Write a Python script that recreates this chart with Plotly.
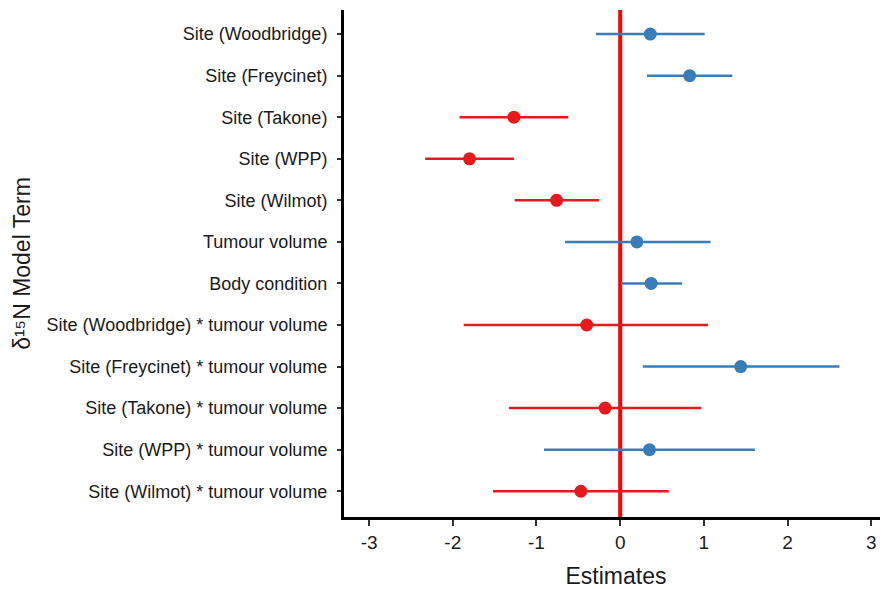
import plotly.graph_objects as go

terms = ["Site (Woodbridge)", "Site (Freycinet)", "Site (Takone)", "Site (WPP)",
         "Site (Wilmot)", "Tumour volume", "Body condition",
         "Site (Woodbridge) * tumour volume", "Site (Freycinet) * tumour volume",
         "Site (Takone) * tumour volume", "Site (WPP) * tumour volume",
         "Site (Wilmot) * tumour volume"]
estimates = [0.36, 0.83, -1.27, -1.80, -0.76, 0.20, 0.37, -0.40, 1.44, -0.18, 0.35, -0.47]
lower = [-0.29, 0.32, -1.92, -2.33, -1.26, -0.66, 0.01, -1.87, 0.27, -1.33, -0.91, -1.52]
upper = [1.01, 1.34, -0.62, -1.27, -0.25, 1.08, 0.74, 1.05, 2.62, 0.97, 1.61, 0.58]
x_ticks = [-3, -2, -1, 0, 1, 2, 3]

RED = "#E41A1C"
BLUE = "#377EB8"

fig = go.Figure()
fig.add_vline(x=0, line=dict(color="#FF0000", width=4), layer="below")

for sign, color in [(1, BLUE), (-1, RED)]:
    idx = [i for i, e in enumerate(estimates) if (e > 0) == (sign > 0)]
    fig.add_trace(go.Scatter(
        x=[estimates[i] for i in idx],
        y=[terms[i] for i in idx],
        mode="markers",
        marker=dict(color=color, size=13),
        error_x=dict(type="data", symmetric=False,
                     array=[upper[i] - estimates[i] for i in idx],
                     arrayminus=[estimates[i] - lower[i] for i in idx],
                     color=color, thickness=2.5, width=0),
        showlegend=False,
    ))

# page body has an 8px margin, so the figure is shrunk by 8px and shifted
fig.update_layout(
    width=880, height=581,
    margin=dict(l=336, r=0, t=2, b=72),
    plot_bgcolor="white", paper_bgcolor="white",
    font=dict(family="Liberation Sans, Arial, sans-serif", color="#1a1a1a"),
)
fig.update_xaxes(
    range=[-3.30, 3.20], tickvals=x_ticks, ticktext=[str(t) for t in x_ticks],
    showgrid=False, zeroline=False,
    showline=True, linecolor="black", linewidth=3,
    ticks="outside", ticklen=6, tickwidth=1.5, tickcolor="#333",
    tickfont=dict(size=19, color="#1a1a1a"),
    title=dict(text="Estimates", font=dict(size=23, color="#1a1a1a"), standoff=18),
)
fig.update_yaxes(
    type="category", categoryorder="array", categoryarray=terms,
    range=[11.62, -0.58],
    showgrid=False, zeroline=False,
    showline=True, linecolor="black", linewidth=3,
    ticks="outside", ticklen=4, tickwidth=1.5, tickcolor="#333",
    ticklabelstandoff=6,
    tickfont=dict(size=18, color="#1a1a1a"),
    title=dict(text="δ¹⁵N Model Term", font=dict(size=23, color="#1a1a1a"), standoff=10),
)

fig.write_html("out.html")
